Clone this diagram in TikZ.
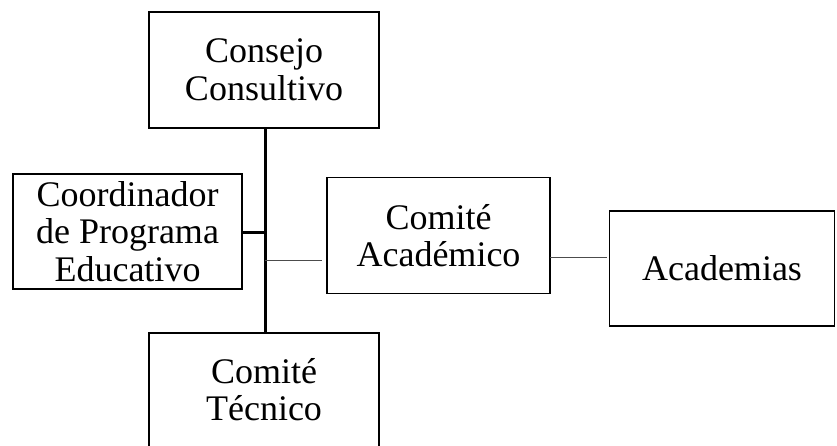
\documentclass[tikz,border=0pt]{standalone}
\usepackage{fontspec}
\newfontfamily\boxfont{Liberation Serif}
\tikzset{
  box/.style={draw=black, line width=1.5pt, inner sep=0pt, align=center,
    font=\boxfont\fontsize{36}{37.5}\selectfont},
  txt/.style={inner sep=0pt, align=center, font=\boxfont\fontsize{36}{37.5}\selectfont},
  thick line/.style={draw=black, line width=3pt},
  thin line/.style={draw=black!70, line width=1pt}}
\begin{document}
\begin{tikzpicture}[x=1pt,y=1pt]
\useasboundingbox (0,0) rectangle (837,-445);
\node[box, minimum width=230pt, minimum height=116pt] (cc) at (264,-70) {Consejo\\Consultivo};
\node[box, minimum width=229pt, minimum height=115pt] (coord) at (127.5,-231.5) {Coordinador\\de Programa\\Educativo};
\node[box, minimum width=223pt, minimum height=116pt] (ca) at (438.5,-235.5) {Comité\\Académico};
\node[box, minimum width=225pt, minimum height=115pt] (acad) at (722,-268.5) {Academias};
\node[box, minimum width=230pt, minimum height=116pt] (ct) at (264,-391) {};
\node[txt] (ctt) at (264,-389.5) {Comité\\Técnico};
\coordinate (j1) at (265,-232);
\coordinate (j2) at (265,-260);
\coordinate (j3) at (322,-260);
\coordinate (k1) at (550,-257);
\coordinate (k2) at (607,-257);
\draw[thick line] (cc.south -| j1) -- (ct.north -| j1);
\draw[thick line] (coord.east |- j1) -- (j1);
\draw[thin line] (j2) -- (j3);
\draw[thin line] (k1) -- (k2);
\end{tikzpicture}
\end{document}
